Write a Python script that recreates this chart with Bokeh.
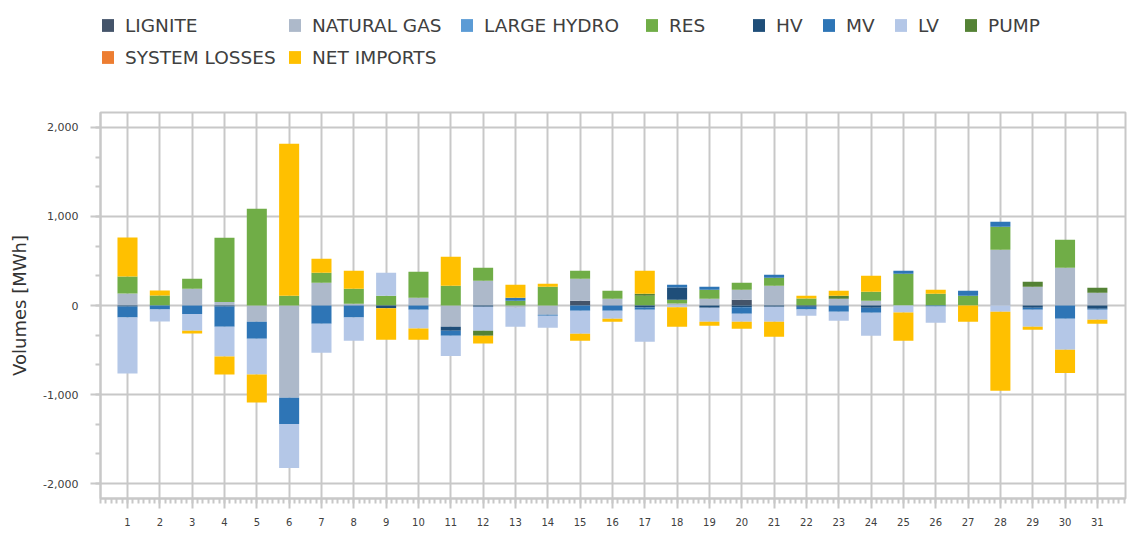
import numpy as np
from bokeh.plotting import figure
from bokeh.layouts import column
from bokeh.models import (Range1d, SingleIntervalTicker, NumeralTickFormatter,
                          Legend, LegendItem, ColumnDataSource)
from bokeh.embed import file_html
from bokeh.resources import INLINE

days = list(range(1, 32))

series_names = ["LIGNITE", "NATURAL GAS", "LARGE HYDRO", "RES", "HV", "MV", "LV",
                "PUMP", "SYSTEM LOSSES", "NET IMPORTS"]

lignite = [0, 0, 0, 0, 0, 0, 0, 0, 0, 0, 0, 0, 0, 0, 52, 0, 0, 0, 0, 64,
           0, 0, 0, 0, 0, 0, 0, 0, 0, 0, 0]
natural_gas = [135, 0, 188, 40, -183, -1037, 255, 20, 0, 86, -240, 278, -26, -105, 248, 75,
               0, 23, 75, 112, 221, 0, 75, 52, 0, 0, 0, 626, 210, 424, 143]
large_hydro = [0] * 31
res = [190, 112, 112, 720, 1087, 109, 113, 168, 109, 293, 222, 146, 52, 210, 90, 90,
       109, 41, 101, 79, 90, 79, 0, 102, 356, 131, 109, 259, 0, 314, 0]
hv = [-10, 0, 0, -10, 0, 0, 0, 0, -30, 0, -45, -15, 0, 0, 0, 0,
      -22, 138, -26, -20, -15, -15, 0, -26, 0, 0, 0, 0, -26, 0, -37]
mv = [-125, -45, -95, -230, -191, -293, -205, -135, 0, -48, -56, 0, 34, -10, -60, -60,
      -27, 30, 34, -74, 34, -30, -71, -56, 34, -10, 56, 56, -22, -150, -10]
lv = [-630, -135, -190, -333, -401, -494, -326, -260, 258, -210, -225, -269, -214, -135, -258, -90,
      -359, -20, -157, -89, -168, -70, -101, -259, -79, -185, 0, -71, -192, -348, -114]
pump = [0, 0, 0, 0, 0, 0, 0, 0, 0, 0, 0, -56, 0, 0, 0, 0,
        22, 0, 0, 0, 0, 0, 34, 0, 0, 0, 0, 0, 56, 0, 56]
system_losses = [0] * 31
net_imports = [440, 57, -30, -202, -315, 1708, 157, 202, -355, -127, 325, -87, 147, 34, -79, -33,
               259, -220, -45, -79, -169, 30, 56, 180, -318, 45, -183, -888, -33, -259, -45]

series_values = [lignite, natural_gas, large_hydro, res, hv, mv, lv, pump, system_losses, net_imports]
colors = ["#44546A", "#ADB9CA", "#5B9BD5", "#70AD47", "#1F4E79", "#2E75B6", "#B4C7E7",
          "#548235", "#ED7D31", "#FFC000"]

GRID = "#C8C8C8"
TEXT = "#404040"
FONT = "DejaVu Sans"

W = 1128
LEG_H = 104                 # height of the legend strip on top
MAIN_H = 536 - LEG_H
FL, FR, FT, FB = 100, 1125, 112, 498   # frame edges on the page

p = figure(width=W, height=MAIN_H, output_backend="svg", toolbar_location=None,
           x_range=Range1d(0.165, 31.87), y_range=Range1d(-2168, 2168),
           min_border_left=FL, min_border_right=W - FR, min_border_top=FT - LEG_H,
           min_border_bottom=536 - FB,
           background_fill_color="white", border_fill_color="white")
p.outline_line_color = GRID
p.outline_line_width = 2

xt = SingleIntervalTicker(interval=1, num_minor_ticks=6)
yt = SingleIntervalTicker(interval=1000, num_minor_ticks=3)
p.xaxis.ticker = xt
p.yaxis.ticker = yt
p.xgrid.ticker = xt
p.ygrid.ticker = yt
for g in (p.xgrid, p.ygrid):
    g.grid_line_color = GRID
    g.grid_line_width = 2

for ax in (p.xaxis, p.yaxis):
    ax.axis_line_color = GRID
    ax.axis_line_width = 2
    ax.major_tick_line_color = GRID
    ax.minor_tick_line_color = GRID
    ax.major_tick_line_width = 2
    ax.minor_tick_line_width = 2
    ax.major_tick_in = 0
    ax.minor_tick_in = 0
    ax.major_label_text_color = TEXT
    ax.major_label_text_font = FONT

p.yaxis.major_tick_out = 10
p.yaxis.minor_tick_out = 5
p.yaxis.formatter = NumeralTickFormatter(format="0,0")
p.yaxis.major_label_text_font_size = "11px"
p.yaxis.major_label_standoff = 12
p.yaxis.axis_label = "Volumes [MWh]"
p.yaxis.axis_label_text_font = FONT
p.yaxis.axis_label_text_font_size = "18px"
p.yaxis.axis_label_text_font_style = "normal"
p.yaxis.axis_label_text_color = "#333333"
p.yaxis.axis_label_standoff = 10

p.xaxis.major_tick_out = 10
p.xaxis.minor_tick_out = 5
p.xaxis.major_label_text_font_size = "10px"
p.xaxis.major_label_standoff = 9

# legend strip: its renderers share the data sources; its view lies away from all bars
lf = figure(width=W, height=LEG_H, output_backend="svg", toolbar_location=None,
            x_range=Range1d(-60, -29), y_range=Range1d(10000, 14336),
            min_border_left=0, min_border_right=0, min_border_top=0, min_border_bottom=0,
            background_fill_color="white", border_fill_color="white")
lf.axis.visible = False
lf.grid.visible = False
lf.outline_line_color = None

pos_base = np.zeros(len(days))
neg_base = np.zeros(len(days))
legend_renderers = []
for name, vals, col in zip(series_names, series_values, colors):
    v = np.array(vals, dtype=float)
    pos = np.clip(v, 0, None)
    neg = np.clip(v, None, 0)
    src = ColumnDataSource(dict(x=days, pb=pos_base.copy(), pt=(pos_base + pos),
                                nb=neg_base.copy(), nt=(neg_base + neg)))
    p.vbar(x="x", bottom="pb", top="pt", width=0.62, fill_color=col, line_color=None, source=src)
    p.vbar(x="x", bottom="nb", top="nt", width=0.62, fill_color=col, line_color=None, source=src)
    lr = lf.vbar(x="x", bottom="nb", top="pt", width=0.62, fill_color=col,
                 line_color=None, source=src)
    legend_renderers.append(lr)
    pos_base = pos_base + pos
    neg_base = neg_base + neg

# legend: 8 columns, two rows (columns 1 and 2 hold two items)
columns = [[0, 8], [1, 9], [2], [3], [4], [5], [6], [7]]
col_x = [100, 287, 459, 644, 751, 821, 893, 963]   # page x of each column's square
H = 21          # legend item height
ROW1_TOP = 14.5
ROW_STEP = 32
for idxs, xo in zip(columns, col_x):
    items = [LegendItem(label=series_names[i], renderers=[legend_renderers[i]]) for i in idxs]
    bottom = ROW1_TOP + (len(idxs) - 1) * ROW_STEP + H
    lg = Legend(items=items, location=(xo - FL, LEG_H - bottom), orientation="vertical",
                margin=0, padding=0, spacing=ROW_STEP - H,
                glyph_width=15, glyph_height=16, label_standoff=10, label_height=16,
                label_text_font=FONT, label_text_font_size="18.5px", label_text_color=TEXT,
                border_line_color=None, background_fill_alpha=0)
    lf.add_layout(lg, "center")

layout = column(lf, p, spacing=0)
open("out.html", "w").write(file_html(layout, INLINE))
